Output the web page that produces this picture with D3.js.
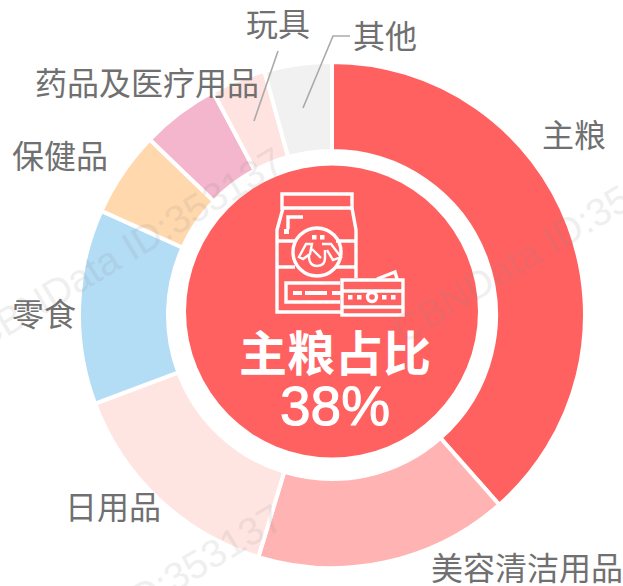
<!DOCTYPE html>
<html><head><meta charset="utf-8">
<script src="https://cdn.jsdelivr.net/npm/d3@7"></script>
<style>html,body{margin:0;padding:0;background:#fff}svg{display:block}</style></head>
<body><svg id="c" width="623" height="586"></svg>
<script>
const categories = ["主粮","美容清洁用品","日用品","零食","保健品","药品及医疗用品","玩具","其他"];
const shares = [38.5,16.2,14.6,12.45,5.45,5.0,3.5,4.3];
const colors = ["#FF6161","#FFB3B3","#FFE5E1","#B3DCF5","#FFD8AD","#F4B6CC","#FFE3E0","#F1F1F1"];
const centerTitle = "主粮占比";
const centerValue = "38%";
const watermark = "CBNData ID:353137";

const W=623,H=586,cx=332,cy=315,R=253,r=164;
const svg=d3.select("#c");
const FONT='"Noto Sans CJK SC","Noto Sans",sans-serif';

const pie=d3.pie().value(d=>d).sort(null);
const arc=d3.arc().innerRadius(r).outerRadius(R);
const g=svg.append("g").attr("transform",`translate(${cx},${cy})`);
g.selectAll("path").data(pie(shares)).join("path")
 .attr("d",arc).attr("fill",(d,i)=>colors[i]).attr("stroke","#fff").attr("stroke-width",4);

// centre disc
svg.append("circle").attr("cx",332).attr("cy",311.5).attr("r",146).attr("fill","#FF6161");

// label placement relative to the chart
const labelPos=[[574,133],[527,566],[113,505],[44,312],[60,154],[147,81],[278,22],[385,34]];
svg.append("g").selectAll("text").data(categories).join("text")
 .attr("x",(d,i)=>labelPos[i][0]).attr("y",(d,i)=>labelPos[i][1])
 .attr("text-anchor","middle").attr("dominant-baseline","central")
 .attr("font-family",FONT).attr("font-size",32).attr("fill","#707070").text(d=>d);

// leader lines
const lead=d3.line();
[[[278,51],[254,121]],[[350,36],[333,36],[303,108]]].forEach(p=>
 svg.append("path").attr("d",lead(p)).attr("fill","none").attr("stroke","#aaa").attr("stroke-width",1.6));

// centre icon
const ic=svg.append("g").attr("fill","none").attr("stroke","#fff").attr("stroke-width",3.4).attr("stroke-linejoin","miter");
const P=d=>ic.append("path").attr("d",d);
const sq=(x,y,s)=>ic.append("rect").attr("x",x).attr("y",y).attr("width",s).attr("height",s).attr("fill","#fff").attr("stroke-width",0);
P("M282 194H352V208H282Z");
P("M283 208L277 230V312H341");
P("M352 208L356 230V278");
P("M277 241H295M336 241H356M277 267H295M336 267H356");
ic.append("circle").attr("cx",317).attr("cy",252).attr("r",24);
sq(312,235,4.5);sq(320,235,4.5);
P("M299 257L306 244H312L310 254L303 259Z").attr("stroke-width",2.4);
P("M322 244H331L341 257L333 260L327 250").attr("stroke-width",2.4);
P("M309 254V258Q310 266 317 266Q325 266 325 258V250M312 249L321 258").attr("stroke-width",2.4);
P("M288 229V217H303");
sq(284,229,5);
P("M340 283H286V302H340");
P("M293 293H302M305 293H327M332 293H341").attr("stroke-width",4);
P("M342 280H403V315H342Z");
P("M342 291H403M342 307H403");
P("M377 279L395 272L397 279");
ic.append("circle").attr("cx",372).attr("cy",297).attr("r",4.5);
[348,357,382,391].forEach(x=>sq(x,295,4.5));

// centre text
svg.append("text").attr("x",335).attr("y",350).attr("text-anchor","middle").attr("dominant-baseline","central")
 .attr("font-family",FONT).attr("font-weight",700).attr("font-size",48).attr("fill","#fff").text(centerTitle);
svg.append("text").attr("x",335).attr("y",425).attr("text-anchor","middle")
 .attr("font-family",'"Liberation Sans",sans-serif').attr("font-size",55).attr("fill","#fff")
 .attr("stroke","#fff").attr("stroke-width",1).text(centerValue);

// watermarks
[[-18,352],[403,345],[-19,709]].forEach(([x,y])=>
 svg.append("text").attr("transform",`translate(${x},${y}) rotate(-31)`)
 .attr("font-family",'"Liberation Sans",sans-serif').attr("font-size",39)
 .attr("fill","#888").attr("opacity",0.13).text(watermark));
</script></body></html>
